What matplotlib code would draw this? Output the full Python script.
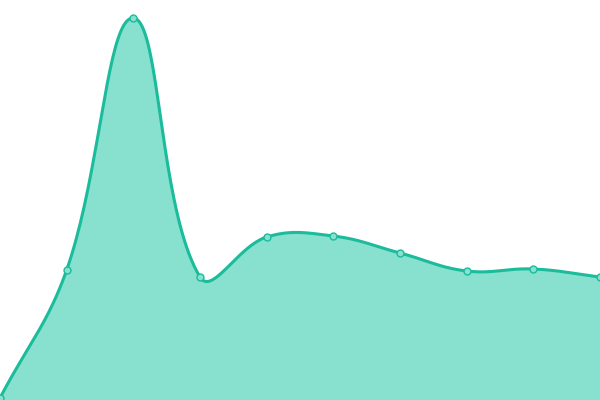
import matplotlib
matplotlib.use("Agg")
import matplotlib.pyplot as plt
import numpy as np

# values (height above bottom, in px)
xs = [0, 1, 2, 3, 4, 5, 6, 7, 8, 9]
values = [2, 130, 382, 123, 163, 164, 147, 129, 131, 123]

line_color = "#1abc9c"
fill_color = "#88e0cf"
tension = 0.4


def spline(x, y, t=tension, n=40):
    # bezier smoothing with control points like a chart.js line
    px = np.asarray(x, float) * 600 / 9
    py = np.asarray(y, float)
    pts = np.column_stack([px, py])
    k = len(pts)
    c_prev, c_next = [], []
    for i in range(k):
        prev = pts[max(i - 1, 0)]
        cur = pts[i]
        nxt = pts[min(i + 1, k - 1)]
        d01 = np.hypot(*(cur - prev))
        d12 = np.hypot(*(nxt - cur))
        tot = d01 + d12
        s01 = d01 / tot if tot else 0
        s12 = d12 / tot if tot else 0
        c_prev.append(cur - t * s01 * (nxt - prev))
        c_next.append(cur + t * s12 * (nxt - prev))
    u = np.linspace(0, 1, n, endpoint=False)[:, None]
    out = []
    for i in range(k - 1):
        p0, p1, p2, p3 = pts[i], c_next[i], c_prev[i + 1], pts[i + 1]
        out.append((1 - u)**3 * p0 + 3 * (1 - u)**2 * u * p1
                   + 3 * (1 - u) * u**2 * p2 + u**3 * p3)
    out.append(pts[-1:])
    out = np.vstack(out)
    return out[:, 0] * 9 / 600, out[:, 1]


sx, sy = spline(xs, values)

fig = plt.figure(figsize=(6, 4), dpi=100)
ax = fig.add_axes([0, 0, 1, 1])
ax.fill_between(sx, sy, 0, color=fill_color, linewidth=0)
ax.plot(sx, sy, color=line_color, linewidth=2.2, solid_capstyle="round")
ax.plot(xs, values, "o", markersize=5, markerfacecolor=fill_color,
        markeredgecolor=line_color, markeredgewidth=1, clip_on=False)
ax.set_xlim(0, 9)
ax.set_ylim(0, 400)
ax.axis("off")
fig.savefig("out.png", dpi=100)
